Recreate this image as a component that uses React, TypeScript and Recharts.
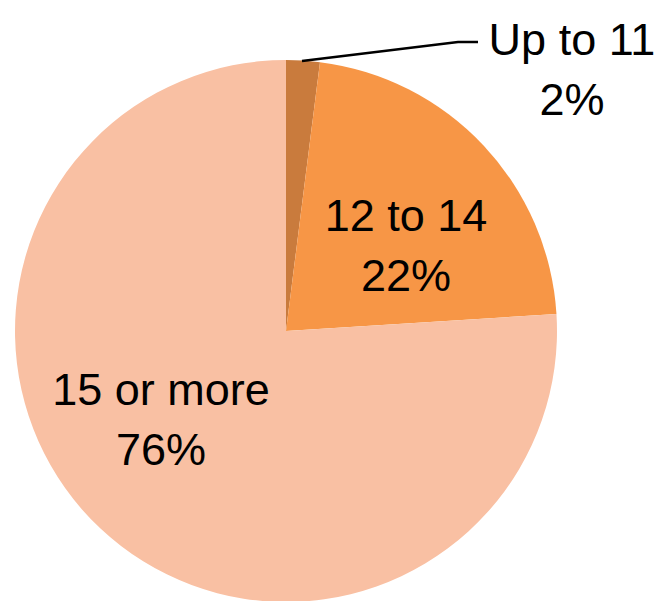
import { PieChart, Pie, Cell } from "recharts";

const categories = ["Up to 11", "12 to 14", "15 or more"];
const shares = [2, 22, 76];
const COLORS = ["#C97B3D", "#F79646", "#F9C0A3"];

const data = categories.map((name, i) => ({ name, value: shares[i] }));
const total = shares.reduce((a, b) => a + b, 0);

// label anchor offsets from the pie centre, per slice (centre of the two-line block)
const LABEL_OFFSETS = [
  { dx: 286, dy: -262 },
  { dx: 120, dy: -86 },
  { dx: -125, dy: 88 },
];

const FONT = "'Liberation Sans', Arial, sans-serif";

function renderLabel(props: any) {
  const { cx, cy, index, value } = props;
  const off = LABEL_OFFSETS[index];
  const x = cx + off.dx;
  const y = cy + off.dy;
  const pct = Math.round((value / total) * 100);
  return (
    <text
      x={x}
      y={y}
      textAnchor="middle"
      fill="#000"
      style={{ fontFamily: FONT, fontSize: 45 }}
    >
      <tspan x={x} dy={-14}>
        {categories[index]}
      </tspan>
      <tspan x={x} dy={60}>
        {pct}%
      </tspan>
    </text>
  );
}

function renderLabelLine(props: any) {
  const { index, cx, cy } = props;
  if (index !== 0) return <g />;
  return (
    <polyline
      points={`${cx + 16},${cy - 270} ${cx + 172},${cy - 289} ${cx + 192},${cy - 289}`}
      fill="none"
      stroke="#000"
      strokeWidth={2.5}
    />
  );
}

export default function App() {
  return (
    <div style={{ position: "absolute", left: 0, top: 0, background: "#fff" }}>
      <PieChart
        width={667}
        height={601}
        margin={{ top: 0, right: 0, bottom: 0, left: 0 }}
      >
        <Pie
          data={data}
          dataKey="value"
          nameKey="name"
          cx={286}
          cy={331}
          outerRadius={271}
          startAngle={90}
          endAngle={-270}
          stroke="none"
          label={renderLabel}
          labelLine={renderLabelLine}
          isAnimationActive={false}
        >
          {data.map((_, i) => (
            <Cell key={i} fill={COLORS[i]} />
          ))}
        </Pie>
      </PieChart>
    </div>
  );
}
